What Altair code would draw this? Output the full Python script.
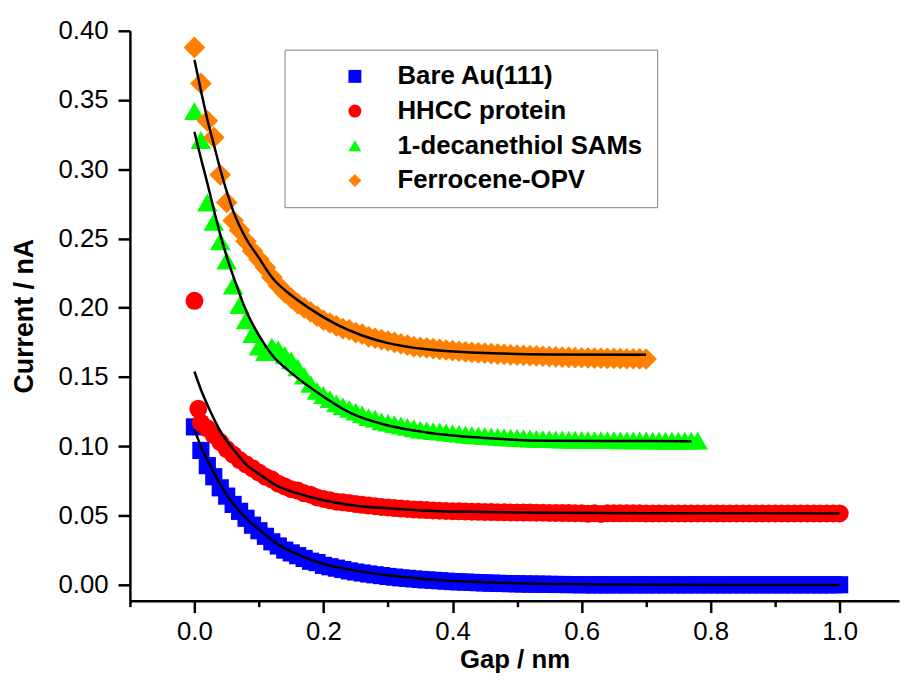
import altair as alt
import pandas as pd

# ---------------- data ----------------
SERIES = ["Bare Au(111)", "HHCC protein", "1-decanethiol SAMs", "Ferrocene-OPV"]
COLORS = ["#0000FF", "#FF0000", "#00FF00", "#FF8000"]
SHAPES = ["square", "circle", "triangle-up", "diamond"]
SIZES = [300, 330, 430, 480]

GAP = [0.00, 0.01, 0.02, 0.03, 0.04, 0.05, 0.06, 0.07, 0.08, 0.09,
       0.10, 0.11, 0.12, 0.13, 0.14, 0.15, 0.16, 0.17, 0.18, 0.19,
       0.20, 0.21, 0.22, 0.23, 0.24, 0.25, 0.26, 0.27, 0.28, 0.29,
       0.30, 0.31, 0.32, 0.33, 0.34, 0.35, 0.36, 0.37, 0.38, 0.39,
       0.40, 0.41, 0.42, 0.43, 0.44, 0.45, 0.46, 0.47, 0.48, 0.49,
       0.50, 0.51, 0.52, 0.53, 0.54, 0.55, 0.56, 0.57, 0.58, 0.59,
       0.60, 0.61, 0.62, 0.63, 0.64, 0.65, 0.66, 0.67, 0.68, 0.69,
       0.70, 0.71, 0.72, 0.73, 0.74, 0.75, 0.76, 0.77, 0.78, 0.79,
       0.80, 0.81, 0.82, 0.83, 0.84, 0.85, 0.86, 0.87, 0.88, 0.89,
       0.90, 0.91, 0.92, 0.93, 0.94, 0.95, 0.96, 0.97, 0.98, 0.99,
       1.00]

# Bare Au(111): values on GAP 0.00 .. 1.00
BLUE_Y = [0.114, 0.097, 0.086, 0.078, 0.070, 0.064, 0.058, 0.053, 0.048, 0.043,
          0.039, 0.035, 0.031, 0.028, 0.025, 0.023, 0.021, 0.019, 0.017, 0.016,
          0.014, 0.013, 0.012, 0.011, 0.010, 0.0092, 0.0085, 0.0078, 0.0072, 0.0066,
          0.0060, 0.0055, 0.0050, 0.0046, 0.0042, 0.0038, 0.0035, 0.0032, 0.0029, 0.0026,
          0.0023, 0.0021, 0.0019, 0.0017, 0.0015, 0.0013, 0.0012, 0.0010, 0.0009, 0.0008,
          0.0007, 0.0006, 0.0005, 0.0004, 0.0004, 0.0003, 0.0002, 0.0002, 0.0001, 0.0001,
          0.0000, 0.0000, -0.0001, 0.0000, -0.0001, 0.0000, 0.0000, -0.0001, 0.0000, 0.0000,
          -0.0001, 0.0000, 0.0000, -0.0001, 0.0000, 0.0000, -0.0001, 0.0000, 0.0000, -0.0001,
          0.0000, 0.0000, -0.0001, 0.0000, 0.0000, -0.0001, 0.0000, 0.0000, -0.0001, 0.0000,
          0.0000, -0.0001, 0.0000, 0.0000, -0.0001, 0.0000, 0.0000, -0.0001, 0.0000, 0.0000,
          0.0000]

# HHCC protein: two first points, then values on GAP 0.01 .. 1.00
RED_HEAD_X = [0.000, 0.006]
RED_HEAD_Y = [0.205, 0.127]
RED_Y = [0.117, 0.113, 0.108, 0.103, 0.098, 0.094, 0.090, 0.087, 0.084,
         0.081, 0.078, 0.076, 0.073, 0.071, 0.069, 0.068, 0.066, 0.065, 0.063,
         0.062, 0.061, 0.060, 0.0595, 0.059, 0.0583, 0.0577, 0.0572, 0.0567, 0.0562,
         0.0558, 0.0554, 0.0550, 0.0547, 0.0544, 0.0541, 0.0539, 0.0537, 0.0535, 0.0533,
         0.0531, 0.0530, 0.0529, 0.0528, 0.0527, 0.0526, 0.0525, 0.0524, 0.0523, 0.0522,
         0.0522, 0.0521, 0.0521, 0.0520, 0.0520, 0.0519, 0.0519, 0.0518, 0.0518, 0.0517,
         0.0517, 0.0512, 0.0517, 0.0511, 0.0516, 0.0516, 0.0516, 0.0516, 0.0516, 0.0516,
         0.0515, 0.0515, 0.0515, 0.0515, 0.0515, 0.0515, 0.0515, 0.0515, 0.0515, 0.0515,
         0.0515, 0.0515, 0.0515, 0.0515, 0.0515, 0.0515, 0.0515, 0.0515, 0.0515, 0.0515,
         0.0515, 0.0515, 0.0515, 0.0515, 0.0515, 0.0515, 0.0515, 0.0515, 0.0515, 0.0515,
         0.0515]

# 1-decanethiol SAMs: values on GAP 0.00 .. 0.78
GREEN_Y = [0.342, 0.321, 0.276, 0.262, 0.248, 0.234, 0.216, 0.202, 0.191, 0.181,
           0.172, 0.168, 0.172, 0.170, 0.166, 0.162, 0.157, 0.151, 0.145, 0.140,
           0.137, 0.134, 0.131, 0.129, 0.127, 0.125, 0.123, 0.121, 0.120, 0.118,
           0.117, 0.116, 0.115, 0.114, 0.113, 0.112, 0.1115, 0.111, 0.1105, 0.110,
           0.1095, 0.109, 0.1085, 0.108, 0.1077, 0.1074, 0.1071, 0.1068, 0.1065, 0.1062,
           0.106, 0.1058, 0.1056, 0.1054, 0.1052, 0.1051, 0.1050, 0.1049, 0.1048, 0.1047,
           0.1046, 0.1046, 0.1045, 0.1045, 0.1044, 0.1044, 0.1043, 0.1043, 0.1042, 0.1042,
           0.1042, 0.1041, 0.1041, 0.1041, 0.1040, 0.1040, 0.1040, 0.1040, 0.1040]

# Ferrocene-OPV: values on GAP 0.00 .. 0.70
ORANGE_Y = [0.388, 0.362, 0.335, 0.323, 0.296, 0.276, 0.263, 0.256, 0.248, 0.241,
            0.235, 0.229, 0.222, 0.216, 0.211, 0.207, 0.203, 0.200, 0.197, 0.194,
            0.191, 0.189, 0.187, 0.185, 0.184, 0.182, 0.181, 0.179, 0.178, 0.177,
            0.176, 0.175, 0.174, 0.173, 0.172, 0.1715, 0.171, 0.1705, 0.170, 0.1695,
            0.169, 0.1686, 0.1682, 0.1678, 0.1675, 0.1672, 0.1669, 0.1666, 0.1663, 0.166,
            0.1658, 0.1656, 0.1654, 0.1652, 0.165, 0.1648, 0.1646, 0.1644, 0.1642, 0.164,
            0.1639, 0.1638, 0.1637, 0.1636, 0.1635, 0.1634, 0.1633, 0.1632, 0.1632, 0.1631,
            0.163]

# fitted curves (black lines)
BLUE_FIT_X = [0.00, 0.01, 0.02, 0.03, 0.05, 0.08, 0.10, 0.13, 0.16, 0.20, 0.26, 0.30, 0.36, 0.45, 0.55, 0.70, 1.00]
BLUE_FIT_Y = [0.112, 0.100, 0.090, 0.081, 0.065, 0.048, 0.040, 0.029, 0.022, 0.015, 0.0095, 0.0068, 0.0040, 0.0018, 0.0006, 0.0000, -0.0002]
RED_FIT_X = [0.00, 0.01, 0.02, 0.03, 0.04, 0.05, 0.06, 0.08, 0.10, 0.13, 0.16, 0.20, 0.25, 0.30, 0.36, 0.45, 0.55, 0.70, 1.00]
RED_FIT_Y = [0.154, 0.141, 0.130, 0.120, 0.111, 0.104, 0.098, 0.087, 0.080, 0.071, 0.066, 0.061, 0.057, 0.0552, 0.0535, 0.0525, 0.052, 0.0516, 0.0515]
GREEN_FIT_X = [0.00, 0.01, 0.02, 0.03, 0.04, 0.05, 0.06, 0.07, 0.08, 0.10, 0.12, 0.15, 0.19, 0.24, 0.30, 0.36, 0.45, 0.55, 0.65, 0.77]
GREEN_FIT_Y = [0.327, 0.308, 0.290, 0.271, 0.253, 0.237, 0.223, 0.210, 0.198, 0.180, 0.166, 0.153, 0.139, 0.1245, 0.115, 0.110, 0.106, 0.104, 0.1038, 0.1037]
ORANGE_FIT_X = [0.00, 0.01, 0.02, 0.03, 0.04, 0.05, 0.06, 0.08, 0.10, 0.12, 0.15, 0.18, 0.22, 0.26, 0.30, 0.36, 0.44, 0.55, 0.70]
ORANGE_FIT_Y = [0.379, 0.357, 0.336, 0.318, 0.300, 0.284, 0.270, 0.250, 0.236, 0.222, 0.209, 0.199, 0.188, 0.180, 0.1745, 0.170, 0.1675, 0.1663, 0.166]

X_TICKS = [-0.1, 0.0, 0.1, 0.2, 0.3, 0.4, 0.5, 0.6, 0.7, 0.8, 0.9, 1.0]
Y_TICKS = [0.0, 0.025, 0.05, 0.075, 0.1, 0.125, 0.15, 0.175, 0.2, 0.225,
           0.25, 0.275, 0.3, 0.325, 0.35, 0.375, 0.4]

# ---------------- tables ----------------
pts = []
for x, y in zip(GAP, BLUE_Y):
    pts.append({"gap": x, "cur": y, "series": SERIES[0]})
for x, y in zip(RED_HEAD_X, RED_HEAD_Y):
    pts.append({"gap": x, "cur": y, "series": SERIES[1]})
for x, y in zip(GAP[1:], RED_Y):
    pts.append({"gap": x, "cur": y, "series": SERIES[1]})
for x, y in zip(GAP, GREEN_Y):
    pts.append({"gap": x, "cur": y, "series": SERIES[2]})
for x, y in zip(GAP, ORANGE_Y):
    pts.append({"gap": x, "cur": y, "series": SERIES[3]})
pts = pd.DataFrame(pts)

fits = []
for name, xs, ys in [(SERIES[0], BLUE_FIT_X, BLUE_FIT_Y), (SERIES[1], RED_FIT_X, RED_FIT_Y),
                     (SERIES[2], GREEN_FIT_X, GREEN_FIT_Y), (SERIES[3], ORANGE_FIT_X, ORANGE_FIT_Y)]:
    for x, y in zip(xs, ys):
        fits.append({"gap": x, "cur": y, "fit": name})
fits = pd.DataFrame(fits)

FONT = "Liberation Sans"

x_scale = alt.Scale(domain=[-0.1, 1.092], nice=False, zero=False)
y_scale = alt.Scale(domain=[-0.0115, 0.40], nice=False, zero=False)

x_axis = alt.Axis(
    title="Gap / nm", values=X_TICKS,
    labelExpr="(round(datum.value*10) % 2 != 0) ? '' : format(datum.value, '.1f')",
    tickSize={"condition": {"test": "round(datum.value*10) % 2 != 0", "value": 6}, "value": 12},
    labelOverlap=False, labelFlush=False, grid=False,
    labelFont=FONT, labelFontSize=26, labelColor="black", labelPadding=6,
    titleFont=FONT, titleFontSize=26, titleFontWeight="bold", titleColor="black", titlePadding=2,
    domainColor="black", domainWidth=2.5, tickColor="black", tickWidth=2.5,
)
y_axis = alt.Axis(
    title="Current / nA", values=Y_TICKS,
    labelExpr="(round(datum.value*40) % 2 != 0) ? '' : format(datum.value, '.2f')",
    tickSize={"condition": {"test": "round(datum.value*40) % 2 != 0", "value": 6}, "value": 12},
    labelOverlap=False, labelFlush=False, grid=False,
    labelFont=FONT, labelFontSize=26, labelColor="black", labelPadding=10,
    titleFont=FONT, titleFontSize=27, titleFontWeight="bold", titleColor="black", titlePadding=20,
    domainColor="black", domainWidth=2.5, tickColor="black", tickWidth=2.5,
)

legend = alt.Legend(title=None, orient="none", legendX=156, legendY=19,
                    direction="vertical", labelFont=FONT, labelFontSize=26,
                    labelFontWeight="bold", labelColor="black", labelLimit=500,
                    padding=14, rowPadding=9, symbolOffset=44, labelOffset=30,
                    symbolSize=170,
                    strokeColor="#808080", symbolStrokeWidth=0, symbolOpacity=1)

point_layers = []
for i, name in enumerate(SERIES):
    point_layers.append(
        alt.Chart(pts).transform_filter(alt.datum.series == name)
        .mark_point(filled=True, opacity=1, strokeWidth=0, size=SIZES[i])
        .encode(
            x=alt.X("gap:Q", scale=x_scale, axis=x_axis),
            y=alt.Y("cur:Q", scale=y_scale, axis=y_axis),
            color=alt.Color("series:N", scale=alt.Scale(domain=SERIES, range=COLORS), legend=legend),
            shape=alt.Shape("series:N", scale=alt.Scale(domain=SERIES, range=SHAPES), legend=legend),
        )
    )

lines = alt.Chart(fits).mark_line(color="black", strokeWidth=2.5, interpolate="monotone").encode(
    x=alt.X("gap:Q", scale=x_scale),
    y=alt.Y("cur:Q", scale=y_scale),
    detail="fit:N",
)

chart = alt.layer(*point_layers, lines).properties(
    width=776, height=575,
    autosize=alt.AutoSizeParams(type="none"),
    padding={"left": 123, "top": 20, "right": 2, "bottom": 73},
    background="white",
).configure_view(stroke=None)

chart.save("out.html", embed_options={"renderer": "svg", "actions": False})
